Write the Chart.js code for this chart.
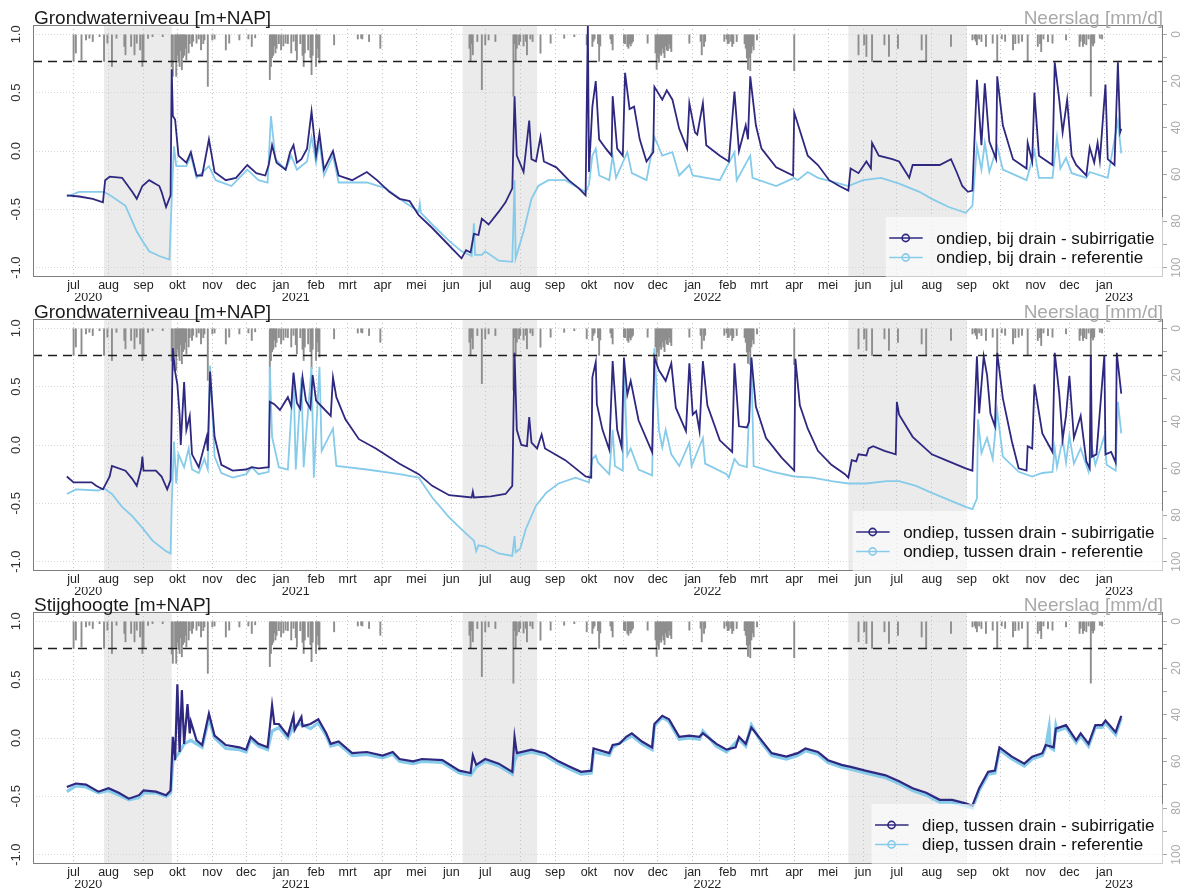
<!DOCTYPE html>
<html lang="nl">
<head>
<meta charset="utf-8">
<title>Grondwaterniveau en stijghoogte</title>
<script src="https://cdn.jsdelivr.net/npm/chart.js@4.4.1/dist/chart.umd.min.js"></script>
<style>
  html, body { margin: 0; padding: 0; background: #fff; }
  #wrap { position: relative; width: 1186px; height: 890px; overflow: hidden; }
  #wrap canvas { position: absolute; left: 0; display: block; }
</style>
</head>
<body>
<div id="wrap">
  <canvas id="panel1" width="1186" height="306" style="top:0px"></canvas>
  <canvas id="panel2" width="1186" height="306" style="top:294px"></canvas>
  <canvas id="panel3" width="1186" height="306" style="top:587px"></canvas>
</div>
<script>
'use strict';

const MONTHS = ['jan', 'feb', 'mrt', 'apr', 'mei', 'jun', 'jul', 'aug', 'sep', 'okt', 'nov', 'dec'];
const X_FROM = '2020-05-26';
const X_TO = '2023-02-22';
const LEVEL_TICKS = [-1, -0.5, 0, 0.5, 1];
const RAIN_TICKS = [0, 10, 20, 30, 40, 50, 60, 70, 80, 90, 100];
const DRAIN_LEVEL = 0.77;

// year labels sit mid-month under the first month of each year
const yearLabels = [['2020-07-14', '2020'], ['2021-01-14', '2021'], ['2022-01-14', '2022'], ['2023-01-14', '2023']];

// grey bands
const bandStart = ['2020-07-28', '2021-06-11', '2022-05-19'];
const bandEnd = ['2020-09-26', '2021-08-16', '2022-09-01'];

const COLOR_SUB = '#2f2880';
const COLOR_REF = '#86cbea';
const RAIN_COLOR = '#8e8e8e';

// neerslag [mm/d]
const rainfall = [
  ['2020-07-01', 11.6], ['2020-07-03', 8], ['2020-07-08', 11], ['2020-07-12', 2.4], ['2020-07-15', 1.7],
  ['2020-07-18', 3.1], ['2020-07-24', 1], ['2020-07-28', 11.6], ['2020-07-31', 3.8], ['2020-08-04', 13.8],
  ['2020-08-08', 1.7], ['2020-08-15', 5.2], ['2020-08-16', 8.8], ['2020-08-21', 5.2], ['2020-08-24', 8.8],
  ['2020-08-26', 3.8], ['2020-08-29', 6.7], ['2020-08-31', 13.8], ['2020-09-01', 11.7], ['2020-09-05', 1.7],
  ['2020-09-09', 1], ['2020-09-18', 1], ['2020-09-26', 14], ['2020-09-27', 18], ['2020-09-29', 11],
  ['2020-09-30', 18], ['2020-10-01', 9], ['2020-10-02', 12], ['2020-10-03', 13.8], ['2020-10-04', 7],
  ['2020-10-05', 15.2], ['2020-10-06', 10], ['2020-10-07', 9], ['2020-10-08', 6], ['2020-10-09', 11],
  ['2020-10-11', 8], ['2020-10-12', 4], ['2020-10-14', 5.2], ['2020-10-15', 3], ['2020-10-18', 3.8],
  ['2020-10-20', 2], ['2020-10-22', 6.7], ['2020-10-24', 4], ['2020-10-25', 2.4], ['2020-10-28', 22.3],
  ['2020-11-01', 2.4], ['2020-11-03', 2], ['2020-11-13', 6.7], ['2020-11-16', 3.8], ['2020-11-25', 2.4],
  ['2020-12-03', 2], ['2020-12-06', 5.2], ['2020-12-09', 1.5], ['2020-12-22', 19.4], ['2020-12-23', 13.8],
  ['2020-12-24', 10], ['2020-12-25', 9], ['2020-12-26', 5], ['2020-12-27', 8], ['2020-12-28', 6],
  ['2020-12-30', 4], ['2021-01-01', 6.7], ['2021-01-03', 5], ['2021-01-05', 3.8], ['2021-01-07', 4],
  ['2021-01-10', 8], ['2021-01-12', 3], ['2021-01-14', 7], ['2021-01-15', 11], ['2021-01-18', 4],
  ['2021-01-20', 9], ['2021-01-21', 13.8], ['2021-01-22', 8], ['2021-01-25', 6.7], ['2021-01-27', 10],
  ['2021-01-28', 17.3], ['2021-01-29', 9], ['2021-02-01', 13.8], ['2021-02-02', 6], ['2021-02-03', 10],
  ['2021-02-04', 12.3], ['2021-02-17', 4.5], ['2021-03-10', 2], ['2021-03-13', 1.7], ['2021-03-14', 2],
  ['2021-03-20', 3.1], ['2021-03-30', 6], ['2021-06-17', 6], ['2021-06-18', 11.6], ['2021-06-19', 4],
  ['2021-06-20', 8.8], ['2021-06-24', 3.1], ['2021-06-28', 23.7], ['2021-07-01', 4.5], ['2021-07-04', 2.4],
  ['2021-07-10', 3.1], ['2021-07-26', 26.5], ['2021-07-27', 4], ['2021-07-28', 11.6], ['2021-07-29', 6],
  ['2021-07-31', 4.5], ['2021-08-01', 3], ['2021-08-04', 5], ['2021-08-06', 3], ['2021-08-07', 8.8],
  ['2021-08-10', 2], ['2021-08-12', 3.1], ['2021-08-19', 8.1], ['2021-08-28', 3.8], ['2021-09-09', 1.7],
  ['2021-09-18', 1], ['2021-09-29', 4.5], ['2021-10-04', 5.2], ['2021-10-05', 3], ['2021-10-06', 2],
  ['2021-10-09', 4], ['2021-10-10', 11.6], ['2021-10-11', 5], ['2021-10-20', 2], ['2021-10-21', 4],
  ['2021-10-22', 6.7], ['2021-11-01', 3.8], ['2021-11-02', 4], ['2021-11-04', 5.2], ['2021-11-05', 6],
  ['2021-11-06', 4], ['2021-11-07', 5], ['2021-11-08', 3.8], ['2021-11-09', 3], ['2021-11-22', 3.8],
  ['2021-11-29', 8], ['2021-11-30', 15], ['2021-12-01', 10.2], ['2021-12-02', 12], ['2021-12-03', 8],
  ['2021-12-04', 9], ['2021-12-05', 6], ['2021-12-06', 8], ['2021-12-07', 10], ['2021-12-08', 5],
  ['2021-12-09', 6.7], ['2021-12-10', 7], ['2021-12-11', 4], ['2021-12-12', 6], ['2021-12-13', 7.4],
  ['2021-12-29', 3.8], ['2022-01-08', 3], ['2022-01-09', 8.8], ['2022-01-11', 5.2], ['2022-01-12', 3],
  ['2022-01-29', 3], ['2022-01-31', 2], ['2022-02-01', 4], ['2022-02-02', 3.8], ['2022-02-04', 3],
  ['2022-02-05', 5.2], ['2022-02-06', 4], ['2022-02-09', 3.1], ['2022-02-16', 4], ['2022-02-17', 6],
  ['2022-02-18', 10.2], ['2022-02-19', 15], ['2022-02-20', 10], ['2022-02-21', 15.6], ['2022-02-22', 8],
  ['2022-02-23', 5], ['2022-02-24', 6.7], ['2022-02-27', 2.4], ['2022-04-01', 15.6], ['2022-05-28', 8.8],
  ['2022-06-02', 4.5], ['2022-06-04', 9.5], ['2022-06-09', 11.6], ['2022-06-20', 4.5], ['2022-06-24', 9.5],
  ['2022-07-02', 6], ['2022-07-23', 6.7], ['2022-07-27', 11.6], ['2022-08-18', 5.2], ['2022-09-06', 2.4],
  ['2022-09-08', 2], ['2022-09-09', 3], ['2022-09-10', 4.5], ['2022-09-12', 2], ['2022-09-14', 3.1],
  ['2022-09-18', 5.2], ['2022-09-24', 3.8], ['2022-09-28', 11.6], ['2022-10-02', 2], ['2022-10-05', 3],
  ['2022-10-12', 6.7], ['2022-10-14', 4], ['2022-10-17', 3.8], ['2022-10-20', 3], ['2022-10-25', 11.6],
  ['2022-11-03', 5.2], ['2022-11-05', 4], ['2022-11-06', 7.4], ['2022-11-08', 2], ['2022-11-12', 3.1],
  ['2022-11-16', 3.8], ['2022-11-28', 2.4], ['2022-12-10', 5.2], ['2022-12-11', 3], ['2022-12-13', 5.2],
  ['2022-12-14', 4], ['2022-12-16', 4.5], ['2022-12-18', 2], ['2022-12-20', 26.5], ['2022-12-21', 4],
  ['2022-12-22', 5], ['2022-12-23', 3.8], ['2022-12-28', 1.7], ['2022-12-30', 2]
];

// ondiep, bij drain [m+NAP]
const atDrainSub = [
  ['2020-06-25', -0.38], ['2020-07-06', -0.39], ['2020-07-18', -0.41], ['2020-07-27', -0.44], ['2020-07-29', -0.25],
  ['2020-08-02', -0.22], ['2020-08-13', -0.23], ['2020-08-22', -0.35], ['2020-08-26', -0.41], ['2020-08-31', -0.30],
  ['2020-09-06', -0.25], ['2020-09-15', -0.30], ['2020-09-17', -0.35], ['2020-09-21', -0.48], ['2020-09-25', -0.38],
  ['2020-09-26', 0.70], ['2020-09-27', 0.30], ['2020-09-29', 0.27], ['2020-10-02', -0.04], ['2020-10-09', -0.10],
  ['2020-10-13', -0.01], ['2020-10-18', -0.21], ['2020-10-23', -0.21], ['2020-10-29', 0.10], ['2020-11-03', -0.18],
  ['2020-11-13', -0.25], ['2020-11-22', -0.23], ['2020-12-02', -0.12], ['2020-12-10', -0.19], ['2020-12-18', -0.21],
  ['2020-12-21', -0.12], ['2020-12-24', 0.05], ['2020-12-28', -0.10], ['2021-01-05', -0.16], ['2021-01-09', -0.01],
  ['2021-01-12', 0.05], ['2021-01-15', -0.10], ['2021-01-19', -0.07], ['2021-01-24', 0.02], ['2021-01-28', 0.34],
  ['2021-02-01', -0.04], ['2021-02-04', 0.15], ['2021-02-08', -0.16], ['2021-02-16', 0.00], ['2021-02-21', -0.21],
  ['2021-03-05', -0.25], ['2021-03-18', -0.18], ['2021-03-27', -0.25], ['2021-04-07', -0.35], ['2021-04-16', -0.41],
  ['2021-04-25', -0.43], ['2021-05-03', -0.55], ['2021-05-15', -0.66], ['2021-05-27', -0.78], ['2021-06-10', -0.92],
  ['2021-06-14', -0.85], ['2021-06-18', -0.87], ['2021-06-21', -0.71], ['2021-06-25', -0.72], ['2021-06-28', -0.58],
  ['2021-07-04', -0.63], ['2021-07-13', -0.52], ['2021-07-19', -0.44], ['2021-07-25', -0.32], ['2021-07-27', 0.47],
  ['2021-07-29', -0.04], ['2021-08-04', -0.18], ['2021-08-09', 0.26], ['2021-08-11', -0.07], ['2021-08-15', -0.09],
  ['2021-08-19', 0.12], ['2021-08-22', -0.09], ['2021-09-02', -0.14], ['2021-09-13', -0.25], ['2021-09-22', -0.32],
  ['2021-09-28', -0.38], ['2021-09-30', 1.10], ['2021-10-01', -0.18], ['2021-10-04', 0.38], ['2021-10-07', 0.60],
  ['2021-10-10', 0.10], ['2021-10-16', 0.02], ['2021-10-21', -0.04], ['2021-10-22', 0.47], ['2021-10-26', 0.02],
  ['2021-10-31', -0.04], ['2021-11-02', 0.67], ['2021-11-06', 0.36], ['2021-11-10', 0.38], ['2021-11-15', 0.10],
  ['2021-11-21', -0.09], ['2021-11-27', -0.01], ['2021-11-28', 0.55], ['2021-12-05', 0.44], ['2021-12-09', 0.52],
  ['2021-12-14', 0.44], ['2021-12-20', 0.19], ['2021-12-27', 0.02], ['2021-12-29', 0.41], ['2022-01-03', 0.16],
  ['2022-01-05', 0.14], ['2022-01-10', 0.41], ['2022-01-13', 0.05], ['2022-01-25', -0.04], ['2022-02-02', -0.09],
  ['2022-02-07', 0.51], ['2022-02-11', 0.00], ['2022-02-17', 0.22], ['2022-02-19', 0.10], ['2022-02-21', 0.64],
  ['2022-02-26', 0.22], ['2022-03-03', 0.02], ['2022-03-16', -0.14], ['2022-03-31', -0.21], ['2022-04-01', 0.33],
  ['2022-04-13', -0.04], ['2022-04-22', -0.12], ['2022-05-02', -0.25], ['2022-05-11', -0.30], ['2022-05-19', -0.34],
  ['2022-05-21', -0.15], ['2022-05-28', -0.19], ['2022-06-04', -0.09], ['2022-06-08', -0.15], ['2022-06-09', 0.07],
  ['2022-06-15', -0.04], ['2022-06-27', -0.07], ['2022-07-03', -0.09], ['2022-07-12', -0.23], ['2022-07-15', -0.12],
  ['2022-08-08', -0.12], ['2022-08-18', -0.07], ['2022-08-23', -0.18], ['2022-08-28', -0.30], ['2022-09-02', -0.35],
  ['2022-09-06', -0.34], ['2022-09-10', 0.61], ['2022-09-14', 0.05], ['2022-09-17', 0.58], ['2022-09-21', 0.08],
  ['2022-09-27', -0.07], ['2022-09-28', 0.64], ['2022-10-03', 0.22], ['2022-10-12', -0.07], ['2022-10-24', -0.15],
  ['2022-10-25', 0.07], ['2022-10-29', -0.09], ['2022-10-31', 0.50], ['2022-11-04', -0.04], ['2022-11-16', -0.12],
  ['2022-11-18', 0.76], ['2022-11-22', 0.44], ['2022-11-25', 0.16], ['2022-11-29', 0.44], ['2022-12-03', -0.04],
  ['2022-12-07', -0.12], ['2022-12-16', -0.21], ['2022-12-19', 0.03], ['2022-12-23', -0.10], ['2022-12-26', 0.07],
  ['2022-12-28', -0.08], ['2023-01-02', 0.57], ['2023-01-04', -0.07], ['2023-01-10', -0.12], ['2023-01-13', 0.76],
  ['2023-01-15', 0.16], ['2023-01-16', 0.19]
];

const atDrainRef = [
  ['2020-06-25', -0.39], ['2020-07-06', -0.35], ['2020-07-23', -0.35], ['2020-07-28', -0.35], ['2020-08-04', -0.39],
  ['2020-08-16', -0.47], ['2020-08-26', -0.69], ['2020-08-31', -0.77], ['2020-09-06', -0.86], ['2020-09-15', -0.90],
  ['2020-09-24', -0.93], ['2020-09-26', -0.41], ['2020-09-28', 0.04], ['2020-09-30', -0.13], ['2020-10-09', -0.13],
  ['2020-10-13', -0.04], ['2020-10-18', -0.23], ['2020-10-29', -0.13], ['2020-11-04', -0.25], ['2020-11-18', -0.30],
  ['2020-12-02', -0.16], ['2020-12-12', -0.25], ['2020-12-20', -0.27], ['2020-12-23', 0.30], ['2020-12-27', -0.07],
  ['2021-01-05', -0.16], ['2021-01-10', -0.04], ['2021-01-15', -0.16], ['2021-01-24', -0.09], ['2021-01-28', 0.12],
  ['2021-02-01', -0.10], ['2021-02-04', 0.08], ['2021-02-08', -0.21], ['2021-02-16', -0.04], ['2021-02-21', -0.27],
  ['2021-03-18', -0.27], ['2021-04-04', -0.32], ['2021-04-16', -0.41], ['2021-05-03', -0.52], ['2021-05-04', -0.45],
  ['2021-05-05', -0.53], ['2021-05-15', -0.63], ['2021-05-30', -0.77], ['2021-06-10', -0.86], ['2021-06-19', -0.90],
  ['2021-06-21', -0.62], ['2021-06-22', -0.89], ['2021-06-28', -0.89], ['2021-07-01', -0.86], ['2021-07-13', -0.94],
  ['2021-07-25', -0.95], ['2021-07-27', -0.25], ['2021-07-28', -0.92], ['2021-08-04', -0.69], ['2021-08-11', -0.41],
  ['2021-08-17', -0.30], ['2021-08-26', -0.25], ['2021-09-10', -0.25], ['2021-09-22', -0.32], ['2021-09-28', -0.35],
  ['2021-10-01', -0.29], ['2021-10-04', -0.04], ['2021-10-07', 0.02], ['2021-10-10', -0.21], ['2021-10-19', -0.25],
  ['2021-10-22', -0.04], ['2021-10-25', -0.23], ['2021-11-04', -0.01], ['2021-11-08', -0.19], ['2021-11-21', -0.25],
  ['2021-11-28', 0.12], ['2021-12-05', -0.04], ['2021-12-14', -0.01], ['2021-12-20', -0.21], ['2021-12-29', -0.12],
  ['2022-01-01', -0.21], ['2022-01-13', -0.23], ['2022-01-25', -0.25], ['2022-02-07', -0.01], ['2022-02-09', -0.25],
  ['2022-02-21', -0.04], ['2022-02-23', -0.23], ['2022-03-16', -0.30], ['2022-04-01', -0.23], ['2022-04-04', -0.25],
  ['2022-04-13', -0.18], ['2022-04-22', -0.23], ['2022-05-04', -0.26], ['2022-05-19', -0.30], ['2022-06-01', -0.25],
  ['2022-06-17', -0.23], ['2022-07-03', -0.28], ['2022-07-21', -0.35], ['2022-08-01', -0.41], ['2022-08-16', -0.48],
  ['2022-08-31', -0.53], ['2022-09-06', -0.47], ['2022-09-10', 0.04], ['2022-09-14', -0.16], ['2022-09-17', 0.07],
  ['2022-09-21', -0.18], ['2022-09-28', 0.04], ['2022-10-03', -0.16], ['2022-10-24', -0.25], ['2022-10-31', 0.00],
  ['2022-11-04', -0.23], ['2022-11-16', -0.23], ['2022-11-20', 0.12], ['2022-11-23', -0.15], ['2022-11-28', -0.06],
  ['2022-12-03', -0.19], ['2022-12-16', -0.23], ['2022-12-19', -0.18], ['2023-01-04', -0.23], ['2023-01-13', 0.26],
  ['2023-01-16', -0.02]
];

// ondiep, tussen drain [m+NAP]
const betweenDrainSub = [
  ['2020-06-25', -0.27], ['2020-07-01', -0.32], ['2020-07-17', -0.32], ['2020-07-21', -0.35], ['2020-07-27', -0.38],
  ['2020-08-02', -0.27], ['2020-08-04', -0.18], ['2020-08-16', -0.22], ['2020-08-22', -0.29], ['2020-08-26', -0.35],
  ['2020-08-30', -0.20], ['2020-08-31', -0.10], ['2020-09-01', -0.22], ['2020-09-12', -0.22], ['2020-09-17', -0.27],
  ['2020-09-22', -0.38], ['2020-09-25', -0.30], ['2020-09-27', 0.83], ['2020-09-29', 0.63], ['2020-10-01', 0.52],
  ['2020-10-03', 0.26], ['2020-10-04', 0.00], ['2020-10-07', 0.54], ['2020-10-09', 0.13], ['2020-10-12', 0.25],
  ['2020-10-14', -0.08], ['2020-10-20', -0.19], ['2020-10-27', 0.07], ['2020-10-28', -0.05], ['2020-10-30', 0.63],
  ['2020-11-03', 0.07], ['2020-11-09', -0.17], ['2020-11-19', -0.22], ['2020-12-01', -0.21], ['2020-12-06', -0.19],
  ['2020-12-12', -0.20], ['2020-12-21', -0.19], ['2020-12-22', 0.37], ['2020-12-26', 0.35], ['2020-12-31', 0.30],
  ['2021-01-07', 0.41], ['2021-01-10', 0.33], ['2021-01-12', 0.62], ['2021-01-15', 0.36], ['2021-01-18', 0.31],
  ['2021-01-20', 0.58], ['2021-01-23', 0.38], ['2021-01-27', 0.31], ['2021-01-29', 0.60], ['2021-02-01', 0.38],
  ['2021-02-06', 0.33], ['2021-02-14', 0.25], ['2021-02-16', 0.58], ['2021-02-19', 0.41], ['2021-02-27', 0.22],
  ['2021-03-11', 0.05], ['2021-03-26', -0.03], ['2021-04-16', -0.16], ['2021-05-03', -0.25], ['2021-05-15', -0.35],
  ['2021-05-30', -0.43], ['2021-06-19', -0.45], ['2021-06-20', -0.40], ['2021-06-21', -0.45], ['2021-07-06', -0.44],
  ['2021-07-19', -0.42], ['2021-07-25', -0.35], ['2021-07-27', 0.79], ['2021-07-29', 0.13], ['2021-08-02', 0.00],
  ['2021-08-07', -0.01], ['2021-08-09', 0.24], ['2021-08-11', 0.02], ['2021-08-16', -0.03], ['2021-08-20', 0.09],
  ['2021-08-23', -0.03], ['2021-09-10', -0.13], ['2021-09-28', -0.27], ['2021-10-03', -0.28], ['2021-10-04', 0.58],
  ['2021-10-07', 0.71], ['2021-10-08', 0.35], ['2021-10-13', 0.13], ['2021-10-19', -0.04], ['2021-10-22', 0.72],
  ['2021-10-26', 0.13], ['2021-10-30', -0.02], ['2021-11-01', 0.75], ['2021-11-04', 0.43], ['2021-11-07', 0.55],
  ['2021-11-14', 0.21], ['2021-11-26', -0.06], ['2021-11-28', 0.75], ['2021-12-02', 0.64], ['2021-12-08', 0.55],
  ['2021-12-13', 0.70], ['2021-12-17', 0.32], ['2021-12-26', 0.12], ['2021-12-29', 0.70], ['2022-01-01', 0.26],
  ['2022-01-04', 0.29], ['2022-01-07', 0.12], ['2022-01-10', 0.72], ['2022-01-14', 0.34], ['2022-01-25', 0.04],
  ['2022-02-05', -0.06], ['2022-02-07', 0.70], ['2022-02-11', 0.16], ['2022-02-18', 0.15], ['2022-02-20', 0.20],
  ['2022-02-22', 0.75], ['2022-02-26', 0.33], ['2022-03-07', 0.06], ['2022-03-21', -0.11], ['2022-04-01', -0.22],
  ['2022-04-02', 0.74], ['2022-04-06', 0.34], ['2022-04-13', 0.14], ['2022-04-22', -0.05], ['2022-05-04', -0.17],
  ['2022-05-16', -0.25], ['2022-05-19', -0.28], ['2022-05-22', -0.13], ['2022-05-26', -0.14], ['2022-05-28', -0.08],
  ['2022-06-04', -0.09], ['2022-06-06', -0.03], ['2022-06-10', -0.01], ['2022-06-20', -0.05], ['2022-06-30', -0.08],
  ['2022-07-01', 0.37], ['2022-07-03', 0.26], ['2022-07-15', 0.07], ['2022-08-01', -0.08], ['2022-08-16', -0.14],
  ['2022-08-31', -0.20], ['2022-09-06', -0.22], ['2022-09-08', 0.30], ['2022-09-10', 0.76], ['2022-09-12', 0.27],
  ['2022-09-16', 0.76], ['2022-09-19', 0.60], ['2022-09-22', 0.27], ['2022-09-26', 0.16], ['2022-09-28', 0.79],
  ['2022-10-03', 0.40], ['2022-10-11', 0.03], ['2022-10-17', -0.20], ['2022-10-24', -0.22], ['2022-10-25', -0.01],
  ['2022-10-29', -0.03], ['2022-10-31', 0.52], ['2022-11-07', 0.10], ['2022-11-16', -0.06], ['2022-11-18', 0.79],
  ['2022-11-22', 0.44], ['2022-11-25', 0.05], ['2022-11-28', 0.25], ['2022-12-01', 0.59], ['2022-12-05', 0.06],
  ['2022-12-11', 0.25], ['2022-12-16', -0.14], ['2022-12-19', -0.20], ['2022-12-20', 0.77], ['2022-12-21', -0.10],
  ['2022-12-25', -0.08], ['2023-01-01', 0.77], ['2023-01-02', -0.08], ['2023-01-07', -0.06], ['2023-01-11', -0.15],
  ['2023-01-12', 0.79], ['2023-01-16', 0.44]
];

const betweenDrainRef = [
  ['2020-06-25', -0.42], ['2020-07-03', -0.38], ['2020-07-23', -0.39], ['2020-07-28', -0.37], ['2020-08-04', -0.42],
  ['2020-08-13', -0.53], ['2020-08-22', -0.61], ['2020-08-31', -0.71], ['2020-09-09', -0.82], ['2020-09-21', -0.91],
  ['2020-09-25', -0.93], ['2020-09-26', -0.51], ['2020-09-28', 0.03], ['2020-09-30', -0.33], ['2020-10-02', -0.08],
  ['2020-10-07', -0.19], ['2020-10-11', -0.03], ['2020-10-14', -0.21], ['2020-10-20', -0.24], ['2020-10-25', -0.12],
  ['2020-10-28', -0.21], ['2020-10-30', 0.68], ['2020-11-03', -0.10], ['2020-11-09', -0.24], ['2020-11-19', -0.28],
  ['2020-12-01', -0.25], ['2020-12-06', -0.19], ['2020-12-12', -0.25], ['2020-12-21', -0.23], ['2020-12-22', 0.67],
  ['2020-12-24', 0.07], ['2020-12-30', -0.19], ['2021-01-07', -0.21], ['2021-01-12', 0.60], ['2021-01-14', -0.21],
  ['2021-01-19', 0.58], ['2021-01-21', -0.19], ['2021-01-28', 0.67], ['2021-01-30', -0.28], ['2021-02-04', 0.67],
  ['2021-02-06', -0.05], ['2021-02-16', 0.14], ['2021-02-19', -0.18], ['2021-03-18', -0.21], ['2021-04-16', -0.25],
  ['2021-05-03', -0.28], ['2021-05-15', -0.45], ['2021-05-30', -0.62], ['2021-06-14', -0.76], ['2021-06-21', -0.82],
  ['2021-06-23', -0.91], ['2021-06-25', -0.86], ['2021-07-01', -0.87], ['2021-07-13', -0.93], ['2021-07-25', -0.95],
  ['2021-07-27', -0.78], ['2021-07-28', -0.92], ['2021-08-01', -0.89], ['2021-08-06', -0.72], ['2021-08-15', -0.52],
  ['2021-08-24', -0.41], ['2021-09-04', -0.33], ['2021-09-19', -0.28], ['2021-10-01', -0.32], ['2021-10-04', -0.12],
  ['2021-10-07', -0.09], ['2021-10-09', -0.15], ['2021-10-19', -0.25], ['2021-10-22', 0.13], ['2021-10-24', -0.18],
  ['2021-10-31', -0.22], ['2021-11-01', 0.70], ['2021-11-04', -0.09], ['2021-11-07', -0.03], ['2021-11-14', -0.21],
  ['2021-11-26', -0.26], ['2021-11-28', 0.83], ['2021-12-02', 0.13], ['2021-12-05', -0.02], ['2021-12-08', 0.13],
  ['2021-12-13', -0.08], ['2021-12-20', -0.18], ['2021-12-29', 0.02], ['2021-12-31', -0.18], ['2022-01-10', 0.06],
  ['2022-01-12', -0.16], ['2022-01-31', -0.25], ['2022-02-02', -0.28], ['2022-02-07', -0.12], ['2022-02-11', -0.17],
  ['2022-02-18', -0.19], ['2022-02-22', 0.75], ['2022-02-24', -0.18], ['2022-03-13', -0.23], ['2022-04-01', -0.27],
  ['2022-04-17', -0.28], ['2022-05-04', -0.31], ['2022-05-19', -0.33], ['2022-06-04', -0.33], ['2022-06-22', -0.31],
  ['2022-07-03', -0.31], ['2022-07-18', -0.35], ['2022-08-01', -0.41], ['2022-08-16', -0.47], ['2022-08-31', -0.53],
  ['2022-09-06', -0.55], ['2022-09-10', -0.46], ['2022-09-11', 0.22], ['2022-09-14', -0.07], ['2022-09-19', 0.06],
  ['2022-09-24', -0.12], ['2022-09-28', 0.29], ['2022-10-03', -0.10], ['2022-10-17', -0.23], ['2022-10-29', -0.27],
  ['2022-11-07', -0.24], ['2022-11-16', -0.23], ['2022-11-18', -0.03], ['2022-11-20', -0.19], ['2022-11-25', 0.05],
  ['2022-11-28', -0.15], ['2022-12-01', 0.08], ['2022-12-05', -0.16], ['2022-12-11', -0.03], ['2022-12-18', -0.23],
  ['2022-12-21', -0.02], ['2022-12-24', -0.17], ['2023-01-01', 0.08], ['2023-01-03', -0.17], ['2023-01-11', -0.22],
  ['2023-01-13', 0.37], ['2023-01-16', 0.10]
];

// diep, tussen drain: stijghoogte [m+NAP]
const deepSub = [
  ['2020-06-25', -0.42], ['2020-07-03', -0.39], ['2020-07-12', -0.40], ['2020-07-23', -0.46], ['2020-08-01', -0.43],
  ['2020-08-10', -0.47], ['2020-08-19', -0.52], ['2020-08-28', -0.49], ['2020-09-01', -0.45], ['2020-09-12', -0.46],
  ['2020-09-21', -0.49], ['2020-09-25', -0.45], ['2020-09-27', 0.01], ['2020-09-29', -0.19], ['2020-10-01', 0.46],
  ['2020-10-03', -0.12], ['2020-10-05', 0.41], ['2020-10-07', -0.05], ['2020-10-10', 0.29], ['2020-10-12', 0.04],
  ['2020-10-13', 0.14], ['2020-10-18', -0.02], ['2020-10-23', -0.06], ['2020-10-29', 0.21], ['2020-11-03', 0.02],
  ['2020-11-13', -0.06], ['2020-11-25', -0.08], ['2020-12-01', -0.10], ['2020-12-05', 0.01], ['2020-12-12', -0.05],
  ['2020-12-20', -0.08], ['2020-12-22', 0.09], ['2020-12-24', 0.28], ['2020-12-26', 0.12], ['2020-12-30', 0.12],
  ['2021-01-07', 0.02], ['2021-01-12', 0.19], ['2021-01-13', 0.07], ['2021-01-19', 0.18], ['2021-01-20', 0.10],
  ['2021-01-27', 0.12], ['2021-02-03', 0.16], ['2021-02-10', 0.04], ['2021-02-14', -0.05], ['2021-02-21', -0.03],
  ['2021-03-05', -0.13], ['2021-03-18', -0.12], ['2021-04-01', -0.15], ['2021-04-10', -0.12], ['2021-04-16', -0.18],
  ['2021-04-28', -0.20], ['2021-05-06', -0.18], ['2021-05-24', -0.19], ['2021-06-08', -0.28], ['2021-06-18', -0.30],
  ['2021-06-20', -0.15], ['2021-06-23', -0.23], ['2021-07-01', -0.18], ['2021-07-13', -0.22], ['2021-07-25', -0.29],
  ['2021-07-27', 0.01], ['2021-07-29', -0.13], ['2021-08-11', -0.10], ['2021-08-23', -0.13], ['2021-09-04', -0.20],
  ['2021-09-15', -0.25], ['2021-09-24', -0.29], ['2021-10-03', -0.28], ['2021-10-05', -0.09], ['2021-10-19', -0.13],
  ['2021-10-22', -0.06], ['2021-10-28', -0.05], ['2021-11-03', 0.01], ['2021-11-08', 0.04], ['2021-11-17', -0.03],
  ['2021-11-26', -0.08], ['2021-11-28', 0.12], ['2021-12-05', 0.19], ['2021-12-11', 0.16], ['2021-12-20', 0.01],
  ['2021-12-29', 0.02], ['2022-01-07', 0.01], ['2022-01-10', 0.04], ['2022-01-22', -0.05], ['2022-01-31', -0.10],
  ['2022-02-08', -0.08], ['2022-02-11', 0.01], ['2022-02-17', -0.05], ['2022-02-22', 0.09], ['2022-03-03', -0.02],
  ['2022-03-12', -0.13], ['2022-03-25', -0.16], ['2022-04-04', -0.13], ['2022-04-11', -0.09], ['2022-04-22', -0.12],
  ['2022-05-01', -0.19], ['2022-05-13', -0.23], ['2022-05-22', -0.25], ['2022-06-03', -0.28], ['2022-06-21', -0.32],
  ['2022-07-03', -0.37], ['2022-07-15', -0.43], ['2022-07-27', -0.47], ['2022-08-08', -0.53], ['2022-08-19', -0.53],
  ['2022-08-31', -0.56], ['2022-09-06', -0.58], ['2022-09-12', -0.43], ['2022-09-20', -0.29], ['2022-09-26', -0.28],
  ['2022-09-30', -0.08], ['2022-10-11', -0.16], ['2022-10-22', -0.22], ['2022-10-29', -0.16], ['2022-11-07', -0.13],
  ['2022-11-10', -0.06], ['2022-11-17', -0.08], ['2022-11-19', 0.08], ['2022-11-28', 0.11], ['2022-12-07', -0.02],
  ['2022-12-11', 0.04], ['2022-12-18', -0.05], ['2022-12-24', 0.11], ['2022-12-30', 0.11], ['2023-01-02', 0.15],
  ['2023-01-11', 0.05], ['2023-01-16', 0.19]
];

const deepRef = [
  ['2020-06-25', -0.46], ['2020-07-03', -0.41], ['2020-07-12', -0.42], ['2020-07-23', -0.47], ['2020-08-01', -0.45],
  ['2020-08-10', -0.49], ['2020-08-19', -0.53], ['2020-08-28', -0.51], ['2020-09-01', -0.47], ['2020-09-12', -0.47],
  ['2020-09-21', -0.50], ['2020-09-25', -0.47], ['2020-09-27', -0.20], ['2020-10-03', -0.12], ['2020-10-07', -0.05],
  ['2020-10-13', -0.02], ['2020-10-18', -0.05], ['2020-10-23', -0.08], ['2020-10-29', 0.17], ['2020-11-03', 0.00],
  ['2020-11-13', -0.09], ['2020-11-25', -0.10], ['2020-12-01', -0.12], ['2020-12-05', -0.01], ['2020-12-12', -0.07],
  ['2020-12-20', -0.10], ['2020-12-24', 0.06], ['2020-12-30', 0.09], ['2021-01-07', 0.00], ['2021-01-12', 0.10],
  ['2021-01-19', 0.12], ['2021-01-27', 0.08], ['2021-02-03', 0.13], ['2021-02-10', 0.02], ['2021-02-14', -0.07],
  ['2021-02-21', -0.05], ['2021-03-05', -0.15], ['2021-03-18', -0.14], ['2021-04-01', -0.17], ['2021-04-10', -0.14],
  ['2021-04-16', -0.20], ['2021-04-28', -0.22], ['2021-05-06', -0.20], ['2021-05-24', -0.21], ['2021-06-08', -0.30],
  ['2021-06-18', -0.32], ['2021-06-23', -0.25], ['2021-07-01', -0.20], ['2021-07-13', -0.24], ['2021-07-25', -0.31],
  ['2021-07-27', -0.20], ['2021-07-29', -0.15], ['2021-08-11', -0.12], ['2021-08-23', -0.15], ['2021-09-04', -0.22],
  ['2021-09-15', -0.27], ['2021-09-24', -0.31], ['2021-10-03', -0.30], ['2021-10-05', -0.12], ['2021-10-19', -0.15],
  ['2021-10-22', -0.08], ['2021-11-03', -0.01], ['2021-11-08', 0.02], ['2021-11-17', -0.05], ['2021-11-26', -0.10],
  ['2021-11-28', 0.10], ['2021-12-05', 0.18], ['2021-12-11', 0.14], ['2021-12-20', -0.01], ['2021-12-29', 0.00],
  ['2022-01-07', -0.01], ['2022-01-10', 0.06], ['2022-01-22', -0.07], ['2022-01-31', -0.12], ['2022-02-11', -0.01],
  ['2022-02-17', -0.07], ['2022-02-22', 0.11], ['2022-03-03', -0.04], ['2022-03-12', -0.15], ['2022-03-25', -0.18],
  ['2022-04-04', -0.15], ['2022-04-11', -0.11], ['2022-04-22', -0.14], ['2022-05-01', -0.21], ['2022-05-13', -0.25],
  ['2022-05-22', -0.27], ['2022-06-03', -0.30], ['2022-06-21', -0.34], ['2022-07-03', -0.39], ['2022-07-15', -0.45],
  ['2022-07-27', -0.49], ['2022-08-08', -0.55], ['2022-08-19', -0.55], ['2022-08-31', -0.58], ['2022-09-06', -0.60],
  ['2022-09-12', -0.45], ['2022-09-20', -0.31], ['2022-09-26', -0.30], ['2022-09-30', -0.10], ['2022-10-11', -0.18],
  ['2022-10-22', -0.24], ['2022-10-29', -0.18], ['2022-11-07', -0.15], ['2022-11-10', -0.08], ['2022-11-13', 0.09],
  ['2022-11-14', -0.08], ['2022-11-17', -0.10], ['2022-11-19', 0.10], ['2022-11-20', 0.06], ['2022-11-28', 0.09],
  ['2022-12-07', -0.04], ['2022-12-11', 0.02], ['2022-12-18', -0.07], ['2022-12-24', 0.09], ['2022-12-30', 0.09],
  ['2023-01-02', 0.13], ['2023-01-11', 0.03], ['2023-01-16', 0.17]
];

const FONT = '"Liberation Sans", Arial, sans-serif';
Chart.defaults.font.family = FONT;

const T0 = Date.UTC(2020, 6, 1);
function day(s) {
  const [y, m, d] = s.split('-').map(Number);
  return (Date.UTC(y, m - 1, d) - T0) / 864e5;
}
const toPoints = rows => rows.map(([d, v]) => ({ x: day(d), y: v }));

// month ticks jul 2020 .. jan 2023
const monthTicks = [];
for (let i = 0; i <= 30; i++) {
  const y = 2020 + Math.floor((6 + i) / 12);
  const m = (6 + i) % 12;
  monthTicks.push({ value: (Date.UTC(y, m, 1) - T0) / 864e5, label: MONTHS[m] });
}

const decorPlugin = {
  id: 'decor',
  beforeDraw(chart) {
    const { ctx, chartArea: a, scales } = chart;
    ctx.save();
    ctx.fillStyle = '#ebebeb';
    bandStart.forEach((from, i) => {
      const x0 = scales.x.getPixelForValue(day(from));
      const x1 = scales.x.getPixelForValue(day(bandEnd[i]));
      ctx.fillRect(x0, a.top, x1 - x0, a.bottom - a.top);
    });
    ctx.restore();
  },
  afterDatasetsDraw(chart) {
    const { ctx, chartArea: a, scales } = chart;
    const y = Math.round(scales.level.getPixelForValue(DRAIN_LEVEL)) + 0.5;
    ctx.save();
    ctx.strokeStyle = '#1e1e1e';
    ctx.lineWidth = 1.6;
    ctx.setLineDash([9, 6]);
    ctx.beginPath();
    ctx.moveTo(a.left, y);
    ctx.lineTo(a.right, y);
    ctx.stroke();
    ctx.restore();
  },
  afterDraw(chart, args, opts) {
    const { ctx, chartArea: a } = chart;
    ctx.save();

    // plot frame
    ctx.strokeStyle = '#7d7d7d';
    ctx.lineWidth = 1;
    ctx.strokeRect(a.left + 0.5, a.top + 0.5, a.right - a.left - 1, a.bottom - a.top - 1);

    // titles
    ctx.font = '19px ' + FONT;
    ctx.textBaseline = 'alphabetic';
    ctx.textAlign = 'left';
    ctx.fillStyle = '#1a1a1a';
    ctx.fillText(opts.title, a.left + 1, a.top - 1);
    ctx.textAlign = 'right';
    ctx.fillStyle = '#a9a9a9';
    ctx.fillText('Neerslag [mm/d]', a.right, a.top - 1);

    // legend, bottom right inside the plot
    const items = chart.data.datasets.filter(d => d.yAxisID === 'level');
    ctx.font = '17px ' + FONT;
    const textW = Math.max(...items.map(d => ctx.measureText(d.label).width));
    const left = a.right - (textW + 59);
    const top = a.bottom - 60;
    ctx.fillStyle = 'rgba(255,255,255,0.6)';
    ctx.fillRect(left, top, a.right - left, a.bottom - top);
    ctx.textAlign = 'left';
    ctx.textBaseline = 'middle';
    items.forEach((d, i) => {
      const y = a.bottom - 39 + i * 19.5;
      ctx.strokeStyle = d.borderColor;
      ctx.lineWidth = 1.6;
      ctx.beginPath();
      ctx.moveTo(left + 3.5, y);
      ctx.lineTo(left + 37, y);
      ctx.stroke();
      ctx.beginPath();
      ctx.arc(left + 20, y, 3.6, 0, Math.PI * 2);
      ctx.stroke();
      ctx.fillStyle = '#111';
      ctx.fillText(d.label, left + 50.5, y + 1);
    });
    ctx.restore();
  }
};

function makePanel(canvasId, title, series, widths) {
  const [sub, ref] = series;
  return new Chart(document.getElementById(canvasId), {
    type: 'line',
    data: {
      datasets: [
        {
          label: sub.label, data: toPoints(sub.rows), xAxisID: 'x', yAxisID: 'level', order: 1,
          borderColor: COLOR_SUB, borderWidth: widths[0], pointRadius: 0, tension: 0
        },
        {
          label: ref.label, data: toPoints(ref.rows), xAxisID: 'x', yAxisID: 'level', order: 2,
          borderColor: COLOR_REF, borderWidth: widths[1], pointRadius: 0, tension: 0
        },
        {
          type: 'bar', label: 'Neerslag', data: toPoints(rainfall), xAxisID: 'x', yAxisID: 'rain', order: 3,
          backgroundColor: RAIN_COLOR, barThickness: 1.25
        }
      ]
    },
    options: {
      responsive: false,
      animation: false,
      events: [],
      layout: { padding: { top: 25, left: 0, right: 0, bottom: 0 } },
      plugins: {
        legend: { display: false },
        tooltip: { enabled: false },
        decor: { title }
      },
      scales: {
        x: {
          type: 'linear',
          position: 'bottom',
          weight: 0,
          offset: false,
          min: day(X_FROM),
          max: day(X_TO),
          afterBuildTicks: s => { s.ticks = monthTicks.map(t => ({ value: t.value })); },
          afterFit: s => { s.height = 16; },
          grid: { offset: false, color: '#c2c2c2', lineWidth: 1, drawTicks: false, borderDash: [1, 3] },
          border: { display: false, dash: [1, 3] },
          ticks: {
            autoSkip: false, maxRotation: 0, minRotation: 0, padding: 1.5, color: '#222',
            font: { size: 12.5 },
            callback: (v, i) => (monthTicks[i] ? monthTicks[i].label : '')
          }
        },
        years: {
          type: 'linear',
          position: 'bottom',
          weight: 1,
          offset: false,
          min: day(X_FROM),
          max: day(X_TO),
          afterBuildTicks: s => { s.ticks = yearLabels.map(([d]) => ({ value: day(d) })); },
          afterFit: s => { s.height = 13; },
          grid: { display: false, drawTicks: false, offset: false },
          border: { display: false },
          ticks: {
            autoSkip: false, maxRotation: 0, minRotation: 0, padding: -2.5, color: '#222',
            font: { size: 12.5 },
            callback: (v, i) => (yearLabels[i] ? yearLabels[i][1] : '')
          }
        },
        level: {
          position: 'left',
          min: -1.08,
          max: 1.08,
          afterBuildTicks: s => { s.ticks = LEVEL_TICKS.map(v => ({ value: v })); },
          afterFit: s => { s.width = 33; },
          grid: { color: '#d6d6d6', drawTicks: false, borderDash: [1, 2] },
          border: { display: false, dash: [1, 2] },
          ticks: {
            minRotation: 90, maxRotation: 90, crossAlign: 'center', padding: 5,
            color: '#333', font: { size: 13 },
            callback: v => Number(v).toFixed(1)
          }
        },
        rain: {
          position: 'right',
          reverse: true,
          min: -4,
          max: 104,
          afterBuildTicks: s => { s.ticks = RAIN_TICKS.map(v => ({ value: v })); },
          afterFit: s => { s.width = 23; },
          grid: {
            drawOnChartArea: false, drawTicks: true, tickLength: 4,
            color: '#a8a8a8', tickColor: '#a8a8a8', tickBorderDash: []
          },
          border: { display: false },
          ticks: {
            minRotation: 90, maxRotation: 90, crossAlign: 'center', padding: 0,
            color: '#ababab', font: { size: 12 },
            callback: v => (v % 20 === 0 ? String(v) : '')
          }
        }
      }
    },
    plugins: [decorPlugin]
  });
}

makePanel('panel1', 'Grondwaterniveau [m+NAP]', [
  { label: 'ondiep, bij drain - subirrigatie', rows: atDrainSub },
  { label: 'ondiep, bij drain - referentie', rows: atDrainRef }
], [1.8, 1.8]);

makePanel('panel2', 'Grondwaterniveau [m+NAP]', [
  { label: 'ondiep, tussen drain - subirrigatie', rows: betweenDrainSub },
  { label: 'ondiep, tussen drain - referentie', rows: betweenDrainRef }
], [1.8, 1.8]);

makePanel('panel3', 'Stijghoogte [m+NAP]', [
  { label: 'diep, tussen drain - subirrigatie', rows: deepSub },
  { label: 'diep, tussen drain - referentie', rows: deepRef }
], [2.2, 3.2]);
</script>
</body>
</html>
